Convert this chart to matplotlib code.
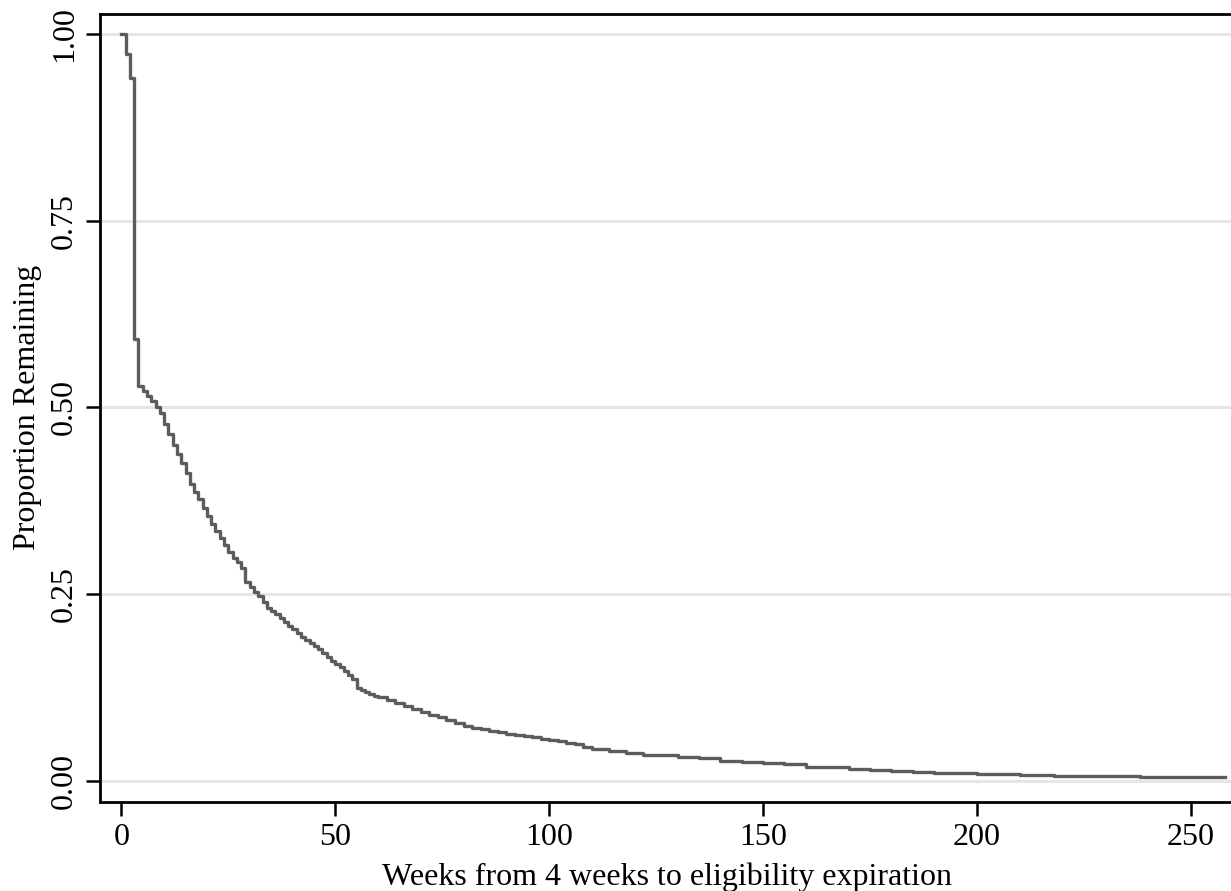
import matplotlib
matplotlib.use("Agg")
import matplotlib.pyplot as plt

# Kaplan-Meier style survival curve
weeks = [0, 1, 2, 3, 4, 5, 6, 7, 8, 9, 10, 11, 12, 13, 14, 15, 16, 17, 18, 19,
         20, 21, 22, 23, 24, 25, 26, 27, 28, 29, 30, 31, 32, 33, 34, 35, 36, 37,
         38, 39, 40, 41, 42, 43, 44, 45, 46, 47, 48, 49, 50, 51, 52, 53, 54, 55,
         56, 57, 58, 59, 60, 62, 64, 66, 68, 70, 72, 74, 76, 78, 80, 82, 84, 86,
         88, 90, 92, 94, 96, 98, 100, 102, 104, 106, 108, 110, 114, 118, 122,
         126, 130, 135, 140, 145, 150, 155, 160, 165, 170, 175, 180, 185, 190,
         195, 200, 210, 218, 225, 238, 258]
remaining = [1.0, 0.973, 0.9415, 0.5915, 0.528, 0.522, 0.515, 0.508, 0.500,
             0.492, 0.478, 0.465, 0.449, 0.437, 0.425, 0.412, 0.398, 0.387,
             0.377, 0.365, 0.354, 0.344, 0.335, 0.325, 0.316, 0.307, 0.299,
             0.293, 0.285, 0.266, 0.259, 0.253, 0.247, 0.240, 0.232, 0.228,
             0.223, 0.218, 0.213, 0.207, 0.203, 0.198, 0.193, 0.189, 0.184,
             0.180, 0.176, 0.171, 0.166, 0.161, 0.157, 0.152, 0.147, 0.142,
             0.136, 0.124, 0.121, 0.119, 0.116, 0.114, 0.112, 0.108, 0.104,
             0.100, 0.096, 0.092, 0.088, 0.085, 0.082, 0.078, 0.074, 0.071,
             0.069, 0.067, 0.065, 0.063, 0.061, 0.060, 0.058, 0.056, 0.055,
             0.053, 0.051, 0.049, 0.045, 0.043, 0.040, 0.037, 0.035, 0.034,
             0.032, 0.030, 0.027, 0.025, 0.024, 0.022, 0.019, 0.018, 0.016,
             0.015, 0.013, 0.012, 0.011, 0.010, 0.009, 0.008, 0.0067, 0.006,
             0.0054, 0.0054]

xticks = [0, 50, 100, 150, 200, 250]
yticks = [0.0, 0.25, 0.5, 0.75, 1.0]
ytick_labels = ["0.00", "0.25", "0.50", "0.75", "1.00"]

plt.rcParams["font.family"] = ["Liberation Serif", "DejaVu Serif"]

fig = plt.figure(figsize=(12.31, 8.91), dpi=100)
ax = fig.add_axes([0.0812, 0.1002, 0.921, 0.8841])

for y in yticks:
    ax.axhline(y, color="#e6e6e6", lw=2.2, zorder=0)

ax.plot(weeks, remaining, drawstyle="steps-post", color="#5c5c5c", lw=2.4)

ax.set_xlim(-5, 260)
ax.set_ylim(-0.028, 1.0268)
ax.set_xticks(xticks)
ax.set_yticks(yticks)
ax.set_yticklabels(ytick_labels, rotation=90, va="center")
ax.tick_params(axis="both", labelsize=23, length=10, width=1.8, color="black")
ax.tick_params(axis="x", pad=5)
ax.tick_params(axis="y", pad=5)

for side in ["left", "bottom", "top"]:
    ax.spines[side].set_linewidth(2.0)
ax.spines["right"].set_visible(False)

ax.set_xlabel("Weeks from 4 weeks to eligibility expiration", fontsize=23, labelpad=8)
ax.set_ylabel("Proportion Remaining", fontsize=23, labelpad=6)

fig.savefig("out.png", dpi=100)
